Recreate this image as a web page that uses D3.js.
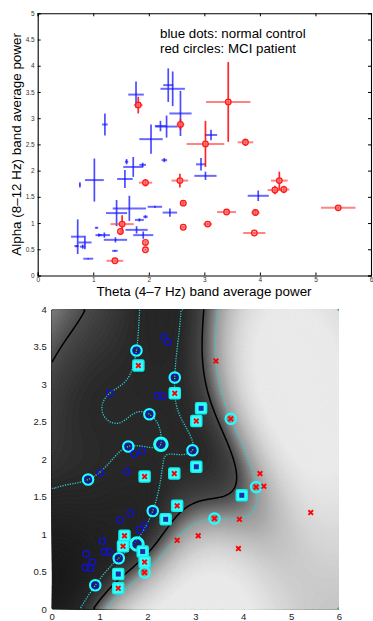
<!DOCTYPE html>
<html><head><meta charset="utf-8">
<script src="https://cdn.jsdelivr.net/npm/d3@7"></script>
<style>body{margin:0;background:#fff}text{font-family:"Liberation Sans",Arial,sans-serif}</style></head>
<body><svg id="s" width="373" height="621"></svg>
<script>
// ---- data: normal control (blue) ----
const blueX=[1.77,2.35,2.43,2.57,1.21,2.21,2.32,2.04,1.60,1.72,1.89,2.28,3.12,2.94,3.02,3.97,1.02,0.76,1.57,2.11,2.38,1.65,1.42,1.83,1.94,1.06,1.78,1.90,1.20,1.10,1.40,0.72,0.85,0.70,0.81,0.91,1.39];
const blueY=[3.45,3.63,3.56,3.09,2.88,2.85,2.84,2.60,2.17,2.07,2.11,2.20,2.68,2.12,1.90,1.52,1.82,1.73,1.84,1.31,1.20,1.28,1.19,1.06,1.12,0.91,0.87,0.77,0.77,0.77,0.68,0.74,0.63,0.56,0.55,0.32,0.47];
const blueXErr=[0.14,0.09,0.22,0.20,0.05,0.10,0.20,0.21,0.03,0.18,0.06,0.05,0.11,0.09,0.20,0.19,0.17,0.01,0.14,0.13,0.13,0.30,0.19,0.08,0.04,0.03,0.20,0.18,0.10,0.06,0.21,0.12,0.12,0.04,0.05,0.09,0.05];
const blueYErr=[0.25,0.32,0.33,0.43,0.21,0.10,0.21,0.28,0.05,0.19,0.04,0.04,0.10,0.12,0.08,0.10,0.41,0.05,0.17,0.02,0.08,0.24,0.25,0.03,0.03,0.01,0.07,0.07,0.05,0.03,0.05,0.33,0.13,0.02,0.04,0.01,0.01];
// support-vector marking in the lower panel: 0 none, 1 circle, 2 large circle, 3 square
const blueSV=[1,0,0,1,0,0,0,1,1,0,0,2,3,1,3,3,0,1,0,1,3,0,0,0,0,0,2,3,0,0,1,0,0,0,0,1,3];
// ---- data: MCI patients (red) ----
const redX=[1.81,2.57,3.43,3.02,3.74,4.35,4.27,4.43,5.41,3.40,3.92,3.06,3.90,2.62,2.62,1.94,2.56,1.52,1.49,1.94,1.94,1.39];
const redY=[3.25,2.88,3.31,2.51,2.54,1.81,1.63,1.64,1.29,1.21,1.20,0.98,0.81,0.92,1.38,1.77,1.81,0.98,0.84,0.63,0.49,0.28];
const redXErr=[0.08,0.07,0.40,0.34,0.14,0.15,0.13,0.10,0.31,0.17,0.075,0.08,0.20,0.05,0.06,0.12,0.15,0.21,0.02,0.02,0.02,0.15];
const redYErr=[0.16,0.10,0.76,0.44,0.07,0.17,0.08,0.07,0.03,0.03,0.06,0.03,0.02,0.02,0.04,0.07,0.13,0.17,0.04,0.03,0.02,0.02];
const redSV=[3,3,0,3,1,0,1,0,0,1,0,0,0,0,3,3,3,3,3,3,1,3];
// ---- ticks and texts ----
const topXTicks=[0,1,2,3,4,5,6];
const topYTicks=[0,0.5,1,1.5,2,2.5,3,3.5,4,4.5,5];
const botXTicks=[0,1,2,3,4,5,6];
const botYTicks=[0,0.5,1,1.5,2,2.5,3,3.5,4];
const legendLines=["blue dots: normal control","red circles: MCI patient"];
const xLabel="Theta (4\u20137 Hz) band average power";
const yLabel="Alpha (8\u201312 Hz) band average power";
// SVM settings (RBF kernel with bias)
const rbfSigma=1.2, boxC=100;

const svg=d3.select('#s');
// ================= TOP PANEL =================
const x1=d3.scaleLinear().domain([0,6]).range([37.7,371]);
const y1=d3.scaleLinear().domain([0,5]).range([275.5,13.3]);
const tg=svg.append('g');
const fmt=d3.format('');
tg.append('g').attr('transform',`translate(0,${y1(0)})`).call(d3.axisBottom(x1).tickValues(topXTicks).tickSize(-3).tickPadding(2).tickFormat(fmt));
tg.append('g').attr('transform',`translate(0,${y1(5)})`).call(d3.axisTop(x1).tickValues(topXTicks).tickSize(-3).tickFormat(''));
tg.append('g').attr('transform',`translate(${x1(0)},0)`).call(d3.axisLeft(y1).tickValues(topYTicks).tickSize(-3).tickPadding(3).tickFormat(fmt));
tg.append('g').attr('transform',`translate(${x1(6)},0)`).call(d3.axisRight(y1).tickValues(topYTicks).tickSize(-3).tickFormat(''));
tg.selectAll('.domain').attr('stroke','#000').attr('stroke-width',1.1);
tg.selectAll('.tick line').attr('stroke','#000');
tg.selectAll('.tick text').attr('font-size',6.5).attr('fill','#333').attr('font-family','Liberation Sans, Arial');
function errbars(xs,ys,xe,ye,hc,vc,ho,vo){
  const g=tg.append('g');
  xs.forEach((x,i)=>{
    g.append('line').attr('x1',x1(x-xe[i])).attr('x2',x1(x+xe[i])).attr('y1',y1(ys[i])).attr('y2',y1(ys[i])).attr('stroke',hc).attr('stroke-opacity',ho).attr('stroke-width',2);
    g.append('line').attr('x1',x1(x)).attr('x2',x1(x)).attr('y1',y1(ys[i]-ye[i])).attr('y2',y1(ys[i]+ye[i])).attr('stroke',vc).attr('stroke-opacity',vo).attr('stroke-width',1.7);
  });
  return g;
}
errbars(blueX,blueY,blueXErr,blueYErr,'#2a2aff','#1010ff',0.7,0.75);
const rg=errbars(redX,redY,redXErr,redYErr,'#ff3030','#ff0000',0.6,0.85);
redX.forEach((x,i)=>{
  rg.append('circle').attr('cx',x1(x)).attr('cy',y1(redY[i])).attr('r',2.8).attr('fill','#ff8080').attr('fill-opacity',0.6).attr('stroke','#ff1a1a').attr('stroke-width',1.3);
});
legendLines.forEach((t,i)=>tg.append('text').attr('x',160).attr('y',38+i*15).attr('font-size',13.3).attr('fill','#000').text(t));
tg.append('text').attr('x',204).attr('y',296).attr('text-anchor','middle').attr('font-size',13.4).text(xLabel);
tg.append('text').attr('transform',`translate(20.6,${(y1(0)+y1(5))/2}) rotate(-90)`).attr('text-anchor','middle').attr('font-size',13.4).text(yLabel);

// ================= BOTTOM PANEL =================
const x2=d3.scaleLinear().domain([0,6]).range([51.7,339]);
const y2=d3.scaleLinear().domain([0,4]).range([609.3,309.3]);
// train an RBF SVM (SMO, with bias) on the subject means
const P=[],L=[];
blueX.forEach((v,i)=>{P.push([v,blueY[i]]);L.push(-1);});
redX.forEach((v,i)=>{P.push([v,redY[i]]);L.push(1);});
const n=P.length,gam=1/(2*rbfSigma*rbfSigma),C=boxC;
const K=P.map(a=>P.map(c=>Math.exp(-gam*((a[0]-c[0])**2+(a[1]-c[1])**2))));
const al=new Array(n).fill(0),G=new Array(n).fill(-1);
for(let it=0;it<100000;it++){
  let i=-1,gm=-Infinity,j=-1,gn=Infinity;
  for(let t=0;t<n;t++){
    const up=(L[t]==1&&al[t]<C)||(L[t]==-1&&al[t]>0);
    const lo=(L[t]==-1&&al[t]<C)||(L[t]==1&&al[t]>0);
    const v=-L[t]*G[t];
    if(up&&v>gm){gm=v;i=t;} if(lo&&v<gn){gn=v;j=t;}
  }
  if(gm-gn<1e-4)break;
  const ai=al[i],aj=al[j];
  if(L[i]!=L[j]){const q=K[i][i]+K[j][j]+2*K[i][j];const d=(-G[i]-G[j])/q,diff=al[i]-al[j];al[i]+=d;al[j]+=d;
    if(diff>0){if(al[j]<0){al[j]=0;al[i]=diff;}}else{if(al[i]<0){al[i]=0;al[j]=-diff;}}
    if(diff>0){if(al[i]>C){al[i]=C;al[j]=C-diff;}}else{if(al[j]>C){al[j]=C;al[i]=C+diff;}}
  }else{let q=K[i][i]+K[j][j]-2*K[i][j];if(q<=1e-12)q=1e-12;const d=(G[i]-G[j])/q,sum=al[i]+al[j];al[i]-=d;al[j]+=d;
    if(sum>C){if(al[i]>C){al[i]=C;al[j]=sum-C;}}else{if(al[j]<0){al[j]=0;al[i]=sum;}}
    if(sum>C){if(al[j]>C){al[j]=C;al[i]=sum-C;}}else{if(al[i]<0){al[i]=0;al[j]=sum;}}}
  const di=al[i]-ai,dj=al[j]-aj;
  for(let k=0;k<n;k++)G[k]+=L[i]*L[k]*K[i][k]*di+L[j]*L[k]*K[j][k]*dj;
}
let rs=0,rc=0;for(let t=0;t<n;t++)if(al[t]>1e-8&&al[t]<C-1e-8){rs+=L[t]*G[t];rc++;}
const rho=rc?rs/rc:0;
const fdec=(x,y)=>{let v=-rho;for(let t=0;t<n;t++)if(al[t]>1e-9)v+=al[t]*L[t]*Math.exp(-gam*((x-P[t][0])**2+(y-P[t][1])**2));return v;};
const nx=150,ny=110;
const vals=new Float64Array(nx*ny);
for(let j=0;j<ny;j++)for(let i=0;i<nx;i++)vals[j*nx+i]=fdec((i+0.5)/nx*6,4-(j+0.5)/ny*4);
const W2=x2(6)-x2(0),H2=y2(0)-y2(4);
const bg=svg.append('g').attr('transform',`translate(${x2(0)},${y2(4)})`);
bg.append('clipPath').attr('id','cp').append('rect').attr('width',W2).attr('height',H2);
const img=bg.append('g').attr('clip-path','url(#cp)');
const tr=d3.geoTransform({point:function(x,y){this.stream.point(x/nx*W2,y/ny*H2);}});
const gp=d3.geoPath(tr);
const grayScale=d3.scaleLinear().domain([-3,-1,0,0.5,1,2,3,4,5]).range([22,40,76,115,155,190,212,226,234]).clamp(true);
const ext=d3.extent(vals);
const gcol=v=>{const g=Math.round(grayScale(v));return d3.rgb(g,g,g).toString();};
img.append('rect').attr('width',W2).attr('height',H2).attr('fill',gcol(ext[0]));
const th=d3.range(Math.floor(ext[0]*10)/10,ext[1],0.08);
d3.contours().size([nx,ny]).thresholds(th)(vals).forEach(c=>{img.append('path').attr('d',gp(c)).attr('fill',gcol(c.value)).attr('stroke',gcol(c.value)).attr('stroke-width',0.3);});
// contour lines without the closing segments along the image border
const eps=1e-6;
function openLines(c){
  const segs=[];
  c.coordinates.forEach(poly=>poly.forEach(ring=>{
    let cur=[];
    ring.forEach((p,k)=>{
      if(k>0){const q=ring[k-1];
        const edge=(q[0]<=eps&&p[0]<=eps)||(q[0]>=nx-eps&&p[0]>=nx-eps)||(q[1]<=eps&&p[1]<=eps)||(q[1]>=ny-eps&&p[1]>=ny-eps);
        if(edge){if(cur.length>1)segs.push(cur);cur=[p];return;}
      }
      cur.push(p);
    });
    if(cur.length>1)segs.push(cur);
  }));
  return segs;
}
const lineGen=d3.line().x(p=>p[0]/nx*W2).y(p=>p[1]/ny*H2);
d3.contours().size([nx,ny]).thresholds([0])(vals).forEach(c=>openLines(c).forEach(s=>img.append('path').attr('d',lineGen(s)).attr('fill','none').attr('stroke','#000').attr('stroke-width',1.5)));
d3.contours().size([nx,ny]).thresholds([-1,1])(vals).forEach(c=>openLines(c).forEach(s=>img.append('path').attr('d',lineGen(s)).attr('fill','none').attr('stroke','#2ccfcf').attr('stroke-width',1.3).attr('stroke-dasharray','1.2,1.3')));
const ag=svg.append('g');
ag.append('g').attr('transform',`translate(0,${y2(0)})`).call(d3.axisBottom(x2).tickValues(botXTicks).tickSize(0).tickPadding(4).tickFormat(fmt));
ag.append('g').attr('transform',`translate(${x2(0)},0)`).call(d3.axisLeft(y2).tickValues(botYTicks).tickSize(0).tickPadding(5).tickFormat(fmt));
ag.selectAll('.domain').remove();
ag.selectAll('.tick text').attr('font-size',9.5).attr('fill','#222').attr('font-family','Liberation Sans, Arial');
const mg=svg.append('g');
function svMark(x,y,t){
  if(t===3)mg.append('rect').attr('x',x-5.5).attr('y',y-5.5).attr('width',11).attr('height',11).attr('rx',1.5).attr('fill','#3ff').attr('stroke','#1ee').attr('stroke-width',1.5);
  else if(t>0)mg.append('circle').attr('cx',x).attr('cy',y).attr('r',t===2?6.3:5.2).attr('fill','none').attr('stroke','#2ff').attr('stroke-width',t===2?3:2.2);
}
blueX.forEach((v,i)=>{
  const x=x2(v),y=y2(blueY[i]),t=blueSV[i];
  svMark(x,y,t);
  if(t===3)mg.append('rect').attr('x',x-2.5).attr('y',y-2.5).attr('width',5).attr('height',5).attr('fill','#1c2fa8');
  else mg.append('circle').attr('cx',x).attr('cy',y).attr('r',3.2).attr('fill','none').attr('stroke','#1010e0').attr('stroke-width',1.3);
});
redX.forEach((v,i)=>{
  const x=x2(v),y=y2(redY[i]),t=redSV[i];
  svMark(x,y,t);
  const s=2.3;
  mg.append('path').attr('d',`M${x-s},${y-s}L${x+s},${y+s}M${x-s},${y+s}L${x+s},${y-s}`).attr('stroke','#f00').attr('stroke-width',1.8);
});
</script></body></html>
